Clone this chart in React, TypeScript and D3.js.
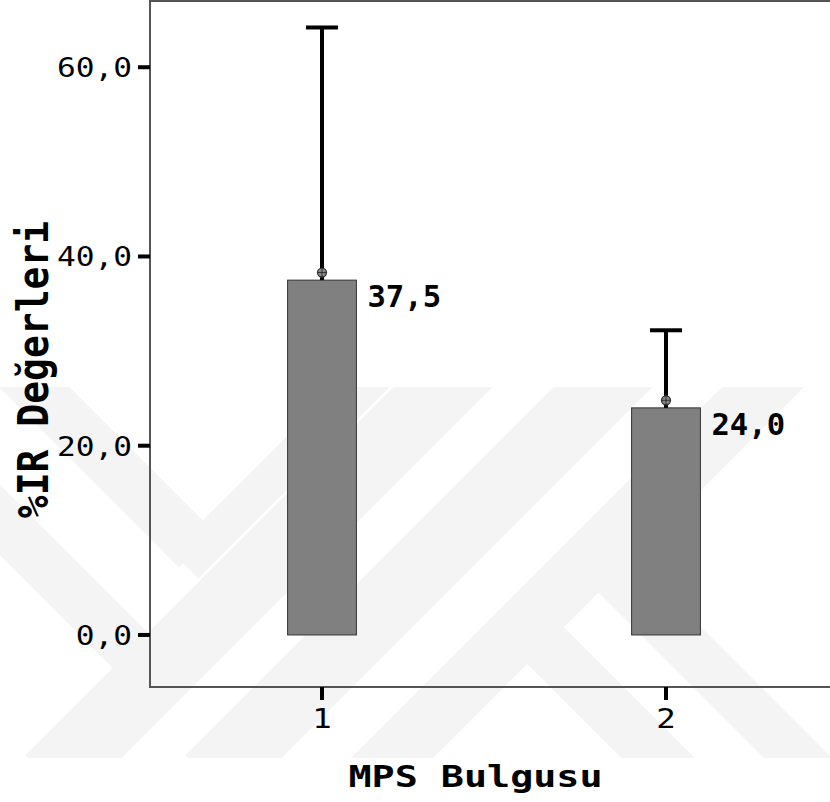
import React from 'react'
import * as d3 from 'd3'

// values
const categories = ['1', '2']
const means = [37.5, 24.0]
const upperValues = [64.2, 32.2]
const markerValues = [38.3, 24.8]
const valueLabels = ['37,5', '24,0']
const yTickValues = [0, 20, 40, 60]

const WIDTH = 830
const HEIGHT = 802
const FONT = '"DejaVu Sans Mono", monospace'
const STRETCH = 1.2 // the reference text is stretched sideways

// faint background watermark bands: [x1, y1, x2, y2, strokeWidth]
const watermark = [
  [-60, 293, 197, 550, 50],
  [185, 565, 420, 330, 38],
  [-60, 460, 150, 670, 50],
  [50, 780, 470, 360, 70],
  [210, 780, 630, 360, 70],
  [370, 780, 790, 360, 58],
  [525, 625, 700, 800, 52],
  [600, 560, 840, 800, 48],
]

export default function App() {
  const plotLeft = 150
  const plotRight = 838
  const plotTop = 1
  const plotBottom = 687

  const x = d3.scalePoint().domain(categories).range([plotLeft, plotRight]).padding(0.5)
  const y = d3.scaleLinear().domain([-5.5, 67.0]).range([plotBottom, plotTop])
  const barWidth = (plotRight - plotLeft) * 0.1
  const fmt = (v: number) => d3.format('.1f')(v).replace('.', ',')

  return (
    <svg width={WIDTH} height={HEIGHT} style={{ position: 'absolute', left: 0, top: 0, background: '#fff' }}>
      <defs>
        <clipPath id="wm">
          <rect x={0} y={387} width={WIDTH} height={371} />
        </clipPath>
      </defs>
      <g clipPath="url(#wm)" stroke="#f4f4f4" strokeLinecap="butt">
        {watermark.map((d, i) => (
          <line key={i} x1={d[0]} y1={d[1]} x2={d[2]} y2={d[3]} strokeWidth={d[4]} />
        ))}
      </g>

      {/* frame */}
      <rect
        x={plotLeft}
        y={plotTop}
        width={plotRight - plotLeft}
        height={plotBottom - plotTop}
        fill="none"
        stroke="#555"
        strokeWidth={2}
      />

      {/* y axis */}
      {yTickValues.map(t => (
        <g key={t}>
          <line x1={plotLeft - 12} x2={plotLeft} y1={y(t)} y2={y(t)} stroke="#000" strokeWidth={4} />
          <text
            transform={`translate(${plotLeft - 18},${y(t) + 10}) scale(${STRETCH},1)`}
            textAnchor="end"
            fontFamily={FONT}
            fontSize={26}
            fill="#000"
          >
            {fmt(t)}
          </text>
        </g>
      ))}

      {/* x axis */}
      {categories.map(c => (
        <g key={c}>
          <line x1={x(c)} x2={x(c)} y1={plotBottom} y2={plotBottom + 13} stroke="#000" strokeWidth={4} />
          <text
            transform={`translate(${x(c)},${plotBottom + 41}) scale(${STRETCH},1)`}
            textAnchor="middle"
            fontFamily={FONT}
            fontSize={27}
            fill="#000"
          >
            {c}
          </text>
        </g>
      ))}

      {/* bars */}
      {categories.map((c, i) => {
        const cx = x(c) as number
        const my = y(markerValues[i])
        return (
          <g key={c}>
            <rect
              x={cx - barWidth / 2}
              y={y(means[i])}
              width={barWidth}
              height={y(0) - y(means[i])}
              fill="#808080"
              stroke="#333"
              strokeWidth={1}
            />
            <line x1={cx} x2={cx} y1={y(means[i])} y2={y(upperValues[i])} stroke="#000" strokeWidth={4} />
            <line
              x1={cx - 16}
              x2={cx + 16}
              y1={y(upperValues[i])}
              y2={y(upperValues[i])}
              stroke="#000"
              strokeWidth={4}
            />
            <circle cx={cx} cy={my} r={4.5} fill="#888" stroke="#333" strokeWidth={1.3} />
            <line x1={cx - 4.5} x2={cx + 4.5} y1={my} y2={my} stroke="#333" strokeWidth={1} />
            <line x1={cx} x2={cx} y1={my - 4.5} y2={my + 4.5} stroke="#333" strokeWidth={1} />
            <text
              transform={`translate(${cx + barWidth / 2 + 11},${y(means[i]) + 27}) scale(1.02,1)`}
              fontFamily={FONT}
              fontSize={30}
              fontWeight="bold"
              fill="#000"
            >
              {valueLabels[i]}
            </text>
          </g>
        )
      })}

      {/* axis titles */}
      <text
        transform={`translate(48,${(222 + 517) / 2}) scale(1.12,1) rotate(-90)`}
        textAnchor="middle"
        fontFamily={FONT}
        fontSize={38}
        fontWeight="bold"
        fill="#000"
      >
        %IR Değerleri
      </text>
      <text
        transform={`translate(${(348 + 603) / 2},787) scale(1.28,1)`}
        textAnchor="middle"
        fontFamily={FONT}
        fontSize={30}
        fontWeight="bold"
        fill="#000"
      >
        MPS Bulgusu
      </text>
    </svg>
  )
}
